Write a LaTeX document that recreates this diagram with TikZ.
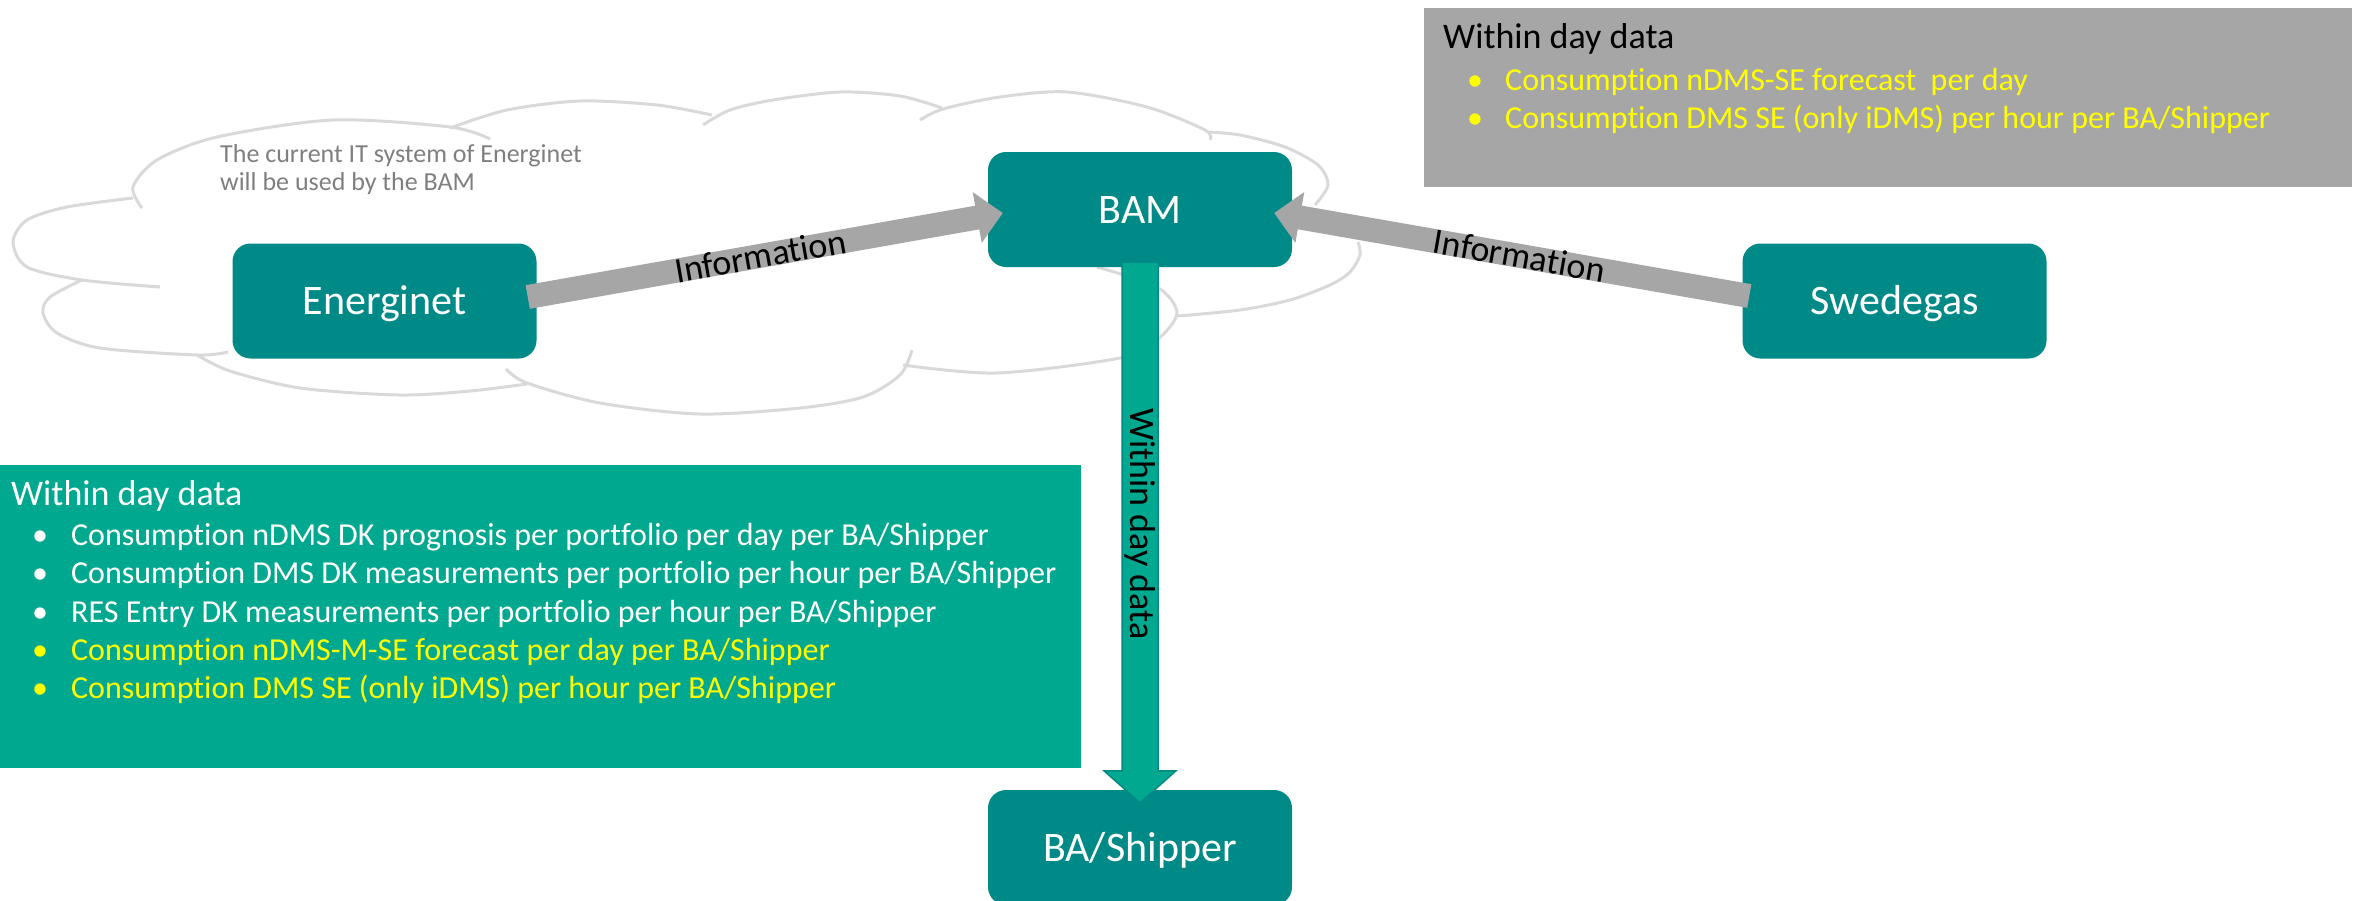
\documentclass[tikz,border=0pt]{standalone}
\usepackage{fontspec}
\setmainfont[Ligatures={NoCommon,NoContextual}]{Carlito}
\usetikzlibrary{arrows.meta,calc}
\definecolor{tealbox}{RGB}{0,138,135}
\definecolor{greenbox}{RGB}{0,168,143}
\definecolor{greyfill}{RGB}{166,166,166}
\definecolor{cloudline}{RGB}{217,217,217}
\definecolor{cloudtext}{RGB}{127,127,127}
\definecolor{yel}{RGB}{255,255,0}
\newcommand{\bulA}{\makebox[39pt][l]{\textbullet}}
\newcommand{\bulB}{\makebox[38pt][l]{\textbullet}}
\begin{document}
\begin{tikzpicture}[x=1pt,y=-1pt,
  box/.style={rounded corners=18pt, fill=tealbox, text=white, minimum width=304pt,
    minimum height=115pt, inner sep=0pt, text height=27pt, text depth=0pt,
    font=\fontsize{42}{50}\selectfont},
  cloudarc/.style={draw=cloudline, line width=3pt},
  txt/.style={anchor=base west, inner sep=0pt},
  bigtxt/.style={txt, font=\fontsize{36}{43}\selectfont},
  bultxt/.style={txt, font=\fontsize{32}{38}\selectfont},
  cloudtxt/.style={txt, text=cloudtext, font=\fontsize{26}{30}\selectfont},
  grayarrow/.style={draw=greyfill, line width=24pt, -{Triangle[length=26pt,width=50pt]}},
  lbl/.style={inner sep=0pt, text=black, font=\fontsize{36}{43}\selectfont}
]
\useasboundingbox (0,0) rectangle (2363,900);
\clip (0,0) rectangle (2363,900);

% cloud
\draw[cloudarc] plot[smooth] coordinates {(133,198) (67,207) (27,220) (13,242) (27,267) (82,280) (160,287)};
\draw[cloudarc] plot[smooth] coordinates {(82,280) (50,297) (43,313) (57,333) (100,348) (197,355) (228,352)};
\draw[cloudarc] plot[smooth] coordinates {(142,208) (133,187) (157,160) (217,137) (333,120) (450,127) (490,139)};
\draw[cloudarc] plot[smooth] coordinates {(450,128) (507,110) (580,101) (657,105) (712,115)};
\draw[cloudarc] plot[smooth] coordinates {(703,125) (730,110) (773,100) (840,92) (900,96) (942,108)};
\draw[cloudarc] plot[smooth] coordinates {(920,120) (943,109) (1000,97) (1067,92) (1147,107) (1205,130) (1210,140)};
\draw[cloudarc] plot[smooth] coordinates {(1208,132) (1240,135) (1285,147) (1318,165) (1328,185) (1315,205)};
\draw[cloudarc] plot[smooth] coordinates {(1358,242) (1360,255) (1350,272) (1330,285) (1290,300) (1240,310) (1178,316)};
\draw[cloudarc] plot[smooth] coordinates {(1097,267) (1157,287) (1177,313) (1157,340) (1120,358) (997,373) (903,365)};
\draw[cloudarc] plot[smooth] coordinates {(506,369) (527,383) (600,403) (700,414) (800,408) (863,397) (900,375) (912,350)};
\draw[cloudarc] plot[smooth] coordinates {(197,355) (230,371) (300,388) (399,395) (470,391) (527,384)};

\node[cloudtxt] (ct1) at (220,162) {The current IT system of Energinet};
\node[cloudtxt] (ct2) at (220,190) {will be used by the BAM};

% green info box
\fill[greenbox] (0,465) rectangle (1081,768);
\node[bigtxt, text=white] (gt) at (11,505) {Within day data};
\node[bultxt, text=white] (g1) at (32,545) {\bulA Consumption nDMS DK prognosis per portfolio per day per BA/Shipper};
\node[bultxt, text=white] (g2) at (32,583) {\bulA Consumption DMS DK measurements per portfolio per hour per BA/Shipper};
\node[bultxt, text=white] (g3) at (32,622) {\bulA RES Entry DK measurements per portfolio per hour per BA/Shipper};
\node[bultxt, text=yel] (g4) at (32,660) {\bulA Consumption nDMS-M-SE forecast per day per BA/Shipper};
\node[bultxt, text=yel] (g5) at (32,698) {\bulA Consumption DMS SE (only iDMS) per hour per BA/Shipper};

% grey info box
\fill[greyfill] (1424,8) rectangle (2352,187);
\node[bigtxt, text=black] (rt) at (1443,48) {Within day data};
\node[bultxt, text=yel] (r1) at (1467,90) {\bulB Consumption nDMS-SE forecast~ per day};
\node[bultxt, text=yel] (r2) at (1467,128) {\bulB Consumption DMS SE (only iDMS) per hour per BA/Shipper};

% boxes
\node[box] (ener) at (384.5,301) {Energinet};
\node[box] (bam) at (1140,209.5) {BAM};
\node[box] (swe) at (1894.5,301) {Swedegas};
\node[box] (bs) at (1140,847.5) {BA/Shipper};

% grey arrows
\draw[grayarrow] ($(ener.east)+(-9,-4)$) -- node[lbl, sloped, pos=0.49] (il) {Information} ($(bam.west)+(15,3.5)$);
\draw[grayarrow] ($(swe.west)+(7,-5)$) -- node[lbl, sloped, pos=0.484] (ir) {Information} ($(bam.east)+(-18,3.5)$);

% vertical arrow
\coordinate (T) at ($(bam.south)+(0,-5)$);
\coordinate (P) at ($(bs.north)+(0,13)$);
\draw[fill=greenbox, draw=tealbox, line width=1.5pt]
  ($(T)+(-18,0)$) -- ($(P)+(-18,-32)$) -- ($(P)+(-36,-32)$) -- (P)
  -- ($(P)+(36,-32)$) -- ($(P)+(18,-32)$) -- ($(T)+(18,0)$) -- cycle;
\node[lbl, rotate=-90] (vl) at ($(T)!0.484!(P)$) {Within day data};
\end{tikzpicture}
\end{document}
